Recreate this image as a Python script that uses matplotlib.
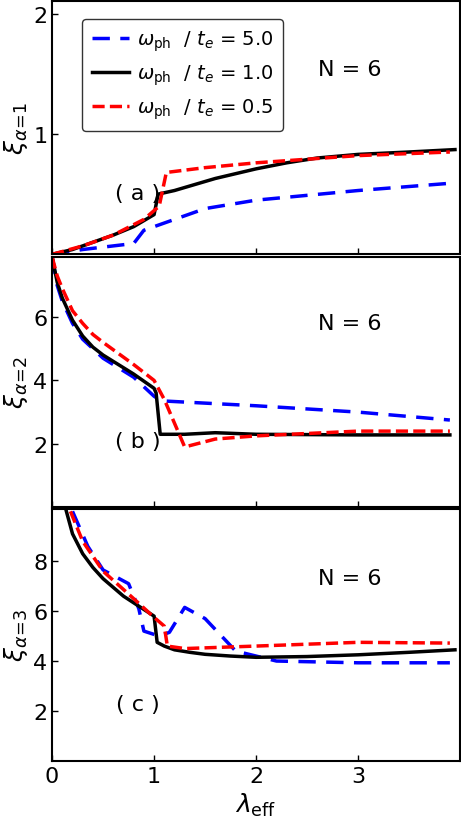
import matplotlib
matplotlib.use("Agg")
import matplotlib.pyplot as plt

# Panel (a)
a_x_blue = [0, 0.3, 0.8, 0.9, 1.5, 2.0, 3.0, 3.9]
a_y_blue = [0, 0.04, 0.09, 0.2, 0.38, 0.45, 0.53, 0.59]
a_x_black = [0, 0.2, 0.4, 0.6, 0.8, 0.9, 1.0, 1.04, 1.2, 1.4, 1.6, 1.8, 2.0, 2.3, 2.6, 3.0, 3.5, 3.95]
a_y_black = [0, 0.04, 0.1, 0.16, 0.23, 0.28, 0.33, 0.5, 0.53, 0.58, 0.63, 0.67, 0.71, 0.76, 0.8, 0.83, 0.85, 0.87]
a_x_red = [0, 0.3, 0.6, 0.9, 1.05, 1.12, 1.5, 2.0, 3.0, 3.9]
a_y_red = [0, 0.07, 0.16, 0.29, 0.4, 0.68, 0.72, 0.76, 0.82, 0.85]

# Panel (b)
b_x_blue = [0, 0.05, 0.1, 0.2, 0.3, 0.5, 0.8, 1.0, 1.05, 1.1, 2.0, 3.0, 3.9]
b_y_blue = [7.9, 7.0, 6.5, 5.8, 5.3, 4.7, 4.1, 3.5, 3.4, 3.35, 3.2, 3.0, 2.75]
b_x_black = [0, 0.05, 0.1, 0.2, 0.3, 0.4, 0.5, 0.65, 0.8, 1.0, 1.02, 1.06, 1.3, 1.6, 2.0, 3.0, 3.9]
b_y_black = [7.9, 7.1, 6.6, 5.9, 5.4, 5.05, 4.8, 4.5, 4.2, 3.75, 3.6, 2.3, 2.3, 2.35, 2.3, 2.28, 2.28]
b_x_red = [0, 0.05, 0.1, 0.2, 0.3, 0.4, 0.5, 0.65, 0.8, 1.0, 1.1, 1.3, 1.6, 2.0, 3.0, 3.9]
b_y_red = [7.9, 7.3, 6.9, 6.2, 5.8, 5.45, 5.2, 4.85, 4.5, 4.0, 3.4, 1.9, 2.15, 2.25, 2.4, 2.4]

# Panel (c)
c_x_blue = [0.2, 0.35, 0.5, 0.75, 0.85, 0.9, 1.05, 1.15, 1.3, 1.5, 1.8, 2.2, 3.0, 3.9]
c_y_blue = [10.0, 8.6, 7.65, 7.1, 6.1, 5.2, 5.0, 5.15, 6.15, 5.7, 4.4, 4.0, 3.93, 3.93]
c_x_black = [0.14, 0.2, 0.3, 0.4, 0.5, 0.6, 0.7, 0.85, 1.0, 1.03, 1.1, 1.2, 1.35, 1.5, 1.75, 2.0, 2.5, 3.0, 3.5, 3.95]
c_y_black = [10.0, 9.1, 8.3, 7.75, 7.3, 6.95, 6.6, 6.2, 5.8, 4.75, 4.6, 4.45, 4.35, 4.27, 4.2, 4.15, 4.18, 4.25, 4.35, 4.45]
c_x_red = [0.18, 0.3, 0.5, 0.8, 1.0, 1.1, 1.13, 1.3, 2.0, 3.0, 3.9]
c_y_red = [10.0, 8.8, 7.6, 6.5, 5.75, 5.4, 4.6, 4.5, 4.6, 4.75, 4.72]

labels = [r"$\omega_{\rm ph}$  / $t_e$ = 5.0", r"$\omega_{\rm ph}$  / $t_e$ = 1.0", r"$\omega_{\rm ph}$  / $t_e$ = 0.5"]

fig = plt.figure(figsize=(4.61, 8.29), dpi=100)
L, W = 0.113, 0.885
axa = fig.add_axes([L, 0.692, W, 0.305])
axb = fig.add_axes([L, 0.387, W, 0.302])
axc = fig.add_axes([L, 0.081, W, 0.304])

panels = [
    (axa, a_x_blue, a_y_blue, a_x_black, a_y_black, a_x_red, a_y_red, (0, 2.1), [1, 2], r"$\xi_{\alpha\!=\!1}$", "( a )", 0.22, 0.71),
    (axb, b_x_blue, b_y_blue, b_x_black, b_y_black, b_x_red, b_y_red, (0, 7.9), [2, 4, 6], r"$\xi_{\alpha\!=\!2}$", "( b )", 0.24, 0.71),
    (axc, c_x_blue, c_y_blue, c_x_black, c_y_black, c_x_red, c_y_red, (0, 10.1), [2, 4, 6, 8], r"$\xi_{\alpha\!=\!3}$", "( c )", 0.2, 0.7),
]
for ax, xb, yb, xk, yk, xr, yr, yl, yt, ylab, plab, py, ny in panels:
    ax.plot(xb, yb, color="blue", lw=2.5, dashes=(5, 3), label=labels[0])
    ax.plot(xk, yk, color="black", lw=2.5, label=labels[1])
    ax.plot(xr, yr, color="red", lw=2.5, dashes=(3.5, 1.5), label=labels[2])
    ax.set_xlim(0, 4.0)
    ax.set_ylim(*yl)
    ax.set_yticks(yt)
    ax.set_xticks([0, 1, 2, 3])
    ax.tick_params(direction="in", labelsize=16, length=4, width=1)
    ax.set_ylabel(ylab, fontsize=18, labelpad=2)
    for s in ax.spines.values():
        s.set_linewidth(1.5)
    ax.text(0.73, ny, "N = 6", transform=ax.transAxes, fontsize=16, ha="center")
    ax.text(0.21, py, plab, transform=ax.transAxes, fontsize=16, ha="center")
axa.tick_params(labelbottom=False)
axb.tick_params(labelbottom=False)
axc.set_xlabel(r"$\lambda_{\rm eff}$", fontsize=18)
leg = axa.legend(loc="upper left", bbox_to_anchor=(0.05, 0.97), fontsize=14, handlelength=1.9,
                 handletextpad=0.4, frameon=True, fancybox=True, edgecolor="black",
                 borderpad=0.5, labelspacing=0.5)
leg.get_frame().set_linewidth(1.0)
fig.savefig("out.png", dpi=100)
